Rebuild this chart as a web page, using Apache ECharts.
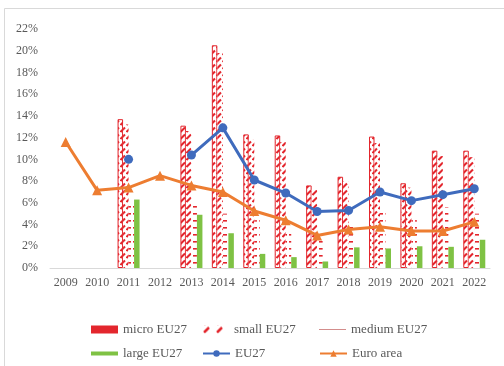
<!DOCTYPE html>
<html>
<head>
<meta charset="utf-8">
<script src="https://cdn.jsdelivr.net/npm/echarts@6/dist/echarts.min.js"></script>
<style>
html, body { margin: 0; padding: 0; background: #fff; }
#chart { width: 504px; height: 366px; }
</style>
</head>
<body>
<div id="chart"></div>
<script>
// years on the x axis
var years = ['2009', '2010', '2011', '2012', '2013', '2014', '2015', '2016', '2017', '2018', '2019', '2020', '2021', '2022'];
// bar values, % (null = no data)
var microEU27 = [null, null, 13.7, null, 13.1, 20.5, 12.3, 12.2, 7.6, 8.4, 12.1, 7.8, 10.8, 10.8];
var smallEU27 = [null, null, 13.2, null, 12.6, 19.8, 11.8, 11.6, 7.2, 8.0, 11.5, 7.4, 10.3, 10.2];
var mediumEU27 = [null, null, 5.9, null, 6.1, 5.0, 4.4, 3.2, 2.8, 3.8, 5.5, 4.4, 5.6, 5.0];
var largeEU27 = [null, null, 6.3, null, 4.9, 3.2, 1.3, 1.0, 0.6, 1.9, 1.8, 2.0, 1.95, 2.6];
// line values, %
var eu27 = [null, null, 10.0, null, 10.4, 12.9, 8.1, 6.9, 5.2, 5.3, 7.0, 6.2, 6.75, 7.3];
var euroArea = [11.6, 7.15, 7.4, 8.5, 7.6, 7.0, 5.25, 4.4, 3.0, 3.55, 3.8, 3.4, 3.4, 4.25];

var RED = '#e3262d';
var FONT = '"Liberation Serif", "Times New Roman", serif';
var TXT = '#595959';

function pattern(w, h, draw) {
    var c = document.createElement('canvas');
    c.width = w; c.height = h;
    var ctx = c.getContext('2d');
    ctx.fillStyle = '#fff';
    ctx.fillRect(0, 0, w, h);
    draw(ctx);
    return { image: c, repeat: 'repeat' };
}

// slanted red strokes (micro / small)
var slashFill = pattern(6, 7, function (ctx) {
    ctx.strokeStyle = RED;
    ctx.lineWidth = 2;
    ctx.beginPath();
    ctx.moveTo(0.5, 6);
    ctx.lineTo(5, 1.5);
    ctx.stroke();
});
// sparser strokes for the legend icon
var slashIcon = pattern(13, 8, function (ctx) {
    ctx.strokeStyle = RED;
    ctx.lineWidth = 2.5;
    ctx.beginPath();
    ctx.moveTo(2, 7);
    ctx.lineTo(7, 2);
    ctx.stroke();
});
// short horizontal dashes (medium)
var dashFill = pattern(6, 7, function (ctx) {
    ctx.fillStyle = RED;
    ctx.fillRect(1, 3, 4, 1.6);
});

function legendAt(name, left, top, extra) {
    var item = Object.assign({ name: name }, extra || {});
    return {
        data: [item],
        left: left,
        top: top,
        padding: 0,
        itemWidth: 27,
        itemHeight: 8,
        selectedMode: false,
        textStyle: { fontFamily: FONT, fontSize: 13, color: TXT }
    };
}

var chart = echarts.init(document.getElementById('chart'));
chart.setOption({
    animation: false,
    graphic: [{
        type: 'rect',
        shape: { x: 4.5, y: 8.5, width: 520, height: 400 },
        style: { fill: 'none', stroke: '#d9d9d9', lineWidth: 1 },
        silent: true
    }],
    legend: [
        legendAt('micro EU27', 91, 323, { icon: 'rect', itemStyle: { color: RED, borderWidth: 0 } }),
        legendAt('small EU27', 202, 323, { icon: 'rect', itemStyle: { color: slashIcon, borderWidth: 0 } }),
        legendAt('medium EU27', 319, 323, { icon: 'path://M0,7.4H27V8H0Z', itemStyle: { color: '#b5413f', borderWidth: 0 } }),
        legendAt('large EU27', 91, 347, { icon: 'path://M0,2H27V6H0Z', itemStyle: { color: '#7fc244', borderWidth: 0 } }),
        legendAt('EU27', 202, 347),
        legendAt('Euro area', 319, 347)
    ],
    grid: { left: 50, right: 14, top: 29, bottom: 98 },
    xAxis: {
        type: 'category',
        data: years,
        axisLine: { lineStyle: { color: '#d9d9d9' } },
        axisTick: { show: false },
        axisLabel: { fontFamily: FONT, fontSize: 12, color: TXT, margin: 9 }
    },
    yAxis: {
        type: 'value',
        min: 0,
        max: 22,
        interval: 2,
        splitLine: { show: false },
        axisLine: { show: false },
        axisLabel: { formatter: '{value}%', fontFamily: FONT, fontSize: 12, color: TXT, margin: 12 }
    },
    series: [
        {
            name: 'micro EU27', type: 'bar', data: microEU27,
            barWidth: 5.5, barGap: '0%',
            itemStyle: { color: slashFill, borderColor: RED, borderWidth: 1 }
        },
        {
            name: 'small EU27', type: 'bar', data: smallEU27,
            barWidth: 5.5, barGap: '0%',
            itemStyle: { color: slashFill }
        },
        {
            name: 'medium EU27', type: 'bar', data: mediumEU27,
            barWidth: 5.5, barGap: '0%',
            itemStyle: { color: dashFill }
        },
        {
            name: 'large EU27', type: 'bar', data: largeEU27,
            barWidth: 5.5, barGap: '0%',
            itemStyle: { color: '#7fc244' }
        },
        {
            name: 'EU27', type: 'line', data: eu27,
            connectNulls: false,
            symbol: 'circle', symbolSize: 9,
            lineStyle: { color: '#3f6bbd', width: 3 },
            itemStyle: { color: '#3f6bbd' }
        },
        {
            name: 'Euro area', type: 'line', data: euroArea,
            symbol: 'triangle', symbolSize: 10,
            lineStyle: { color: '#ed7d31', width: 3 },
            itemStyle: { color: '#ed7d31' }
        }
    ]
});
</script>
</body>
</html>
